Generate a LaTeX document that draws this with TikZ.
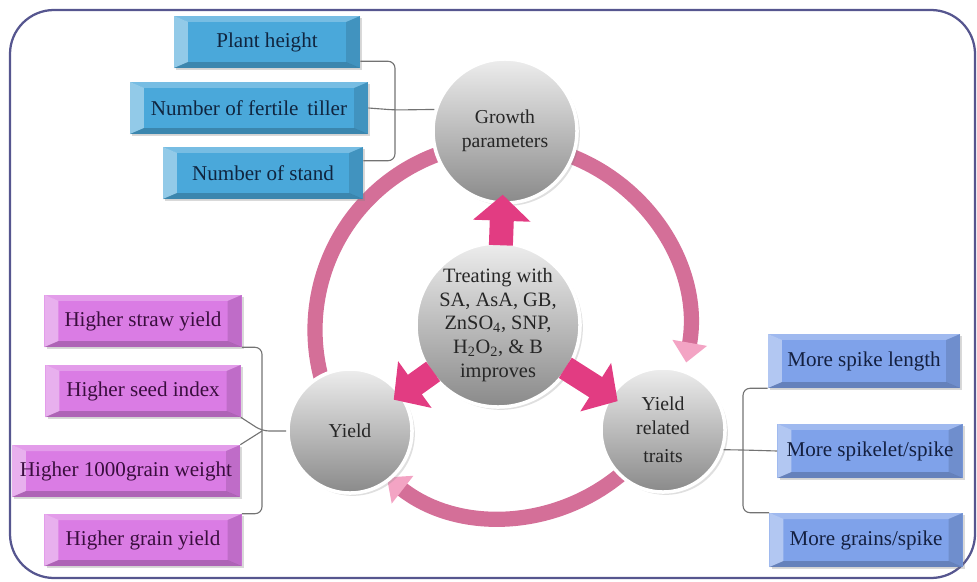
\documentclass[tikz,border=0pt]{standalone}
\usepackage{fontspec}
\setmainfont{Liberation Serif}
\usetikzlibrary{arrows.meta,calc,shadows}
\definecolor{skyfill}{HTML}{4AA8DA}
\definecolor{skytext}{HTML}{10253F}
\definecolor{lilacfill}{HTML}{DA7CE4}
\definecolor{lilactext}{HTML}{3A0E3E}
\definecolor{periwinkle}{HTML}{7FA2EA}
\definecolor{periwinkletext}{HTML}{142040}
\definecolor{ringpink}{HTML}{D46F98}
\definecolor{headpink}{HTML}{F3A4C4}
\definecolor{pushpink}{HTML}{E23C82}
\definecolor{frameblue}{HTML}{56568F}

\begin{document}
\begin{tikzpicture}[x=0.025cm, y=0.025cm,
    bevel/.style={path picture={
      \fill[white,opacity=.4] (path picture bounding box.south west) -- (path picture bounding box.north west) -- ($(path picture bounding box.north west)+(.35cm,-.15cm)$) -- ($(path picture bounding box.south west)+(.35cm,.15cm)$) -- cycle;
      \fill[white,opacity=.25] (path picture bounding box.north west) -- (path picture bounding box.north east) -- ($(path picture bounding box.north east)+(-.35cm,-.15cm)$) -- ($(path picture bounding box.north west)+(.35cm,-.15cm)$) -- cycle;
      \fill[black,opacity=.2] (path picture bounding box.south west) -- (path picture bounding box.south east) -- ($(path picture bounding box.south east)+(-.35cm,.15cm)$) -- ($(path picture bounding box.south west)+(.35cm,.15cm)$) -- cycle;
      \fill[black,opacity=.12] (path picture bounding box.south east) -- (path picture bounding box.north east) -- ($(path picture bounding box.north east)+(-.35cm,-.15cm)$) -- ($(path picture bounding box.south east)+(-.35cm,.15cm)$) -- cycle;}},
    skybox/.style={rectangle, fill=skyfill, text=skytext, minimum height=1.3cm, inner sep=0pt, font=\fontsize{15}{17}\selectfont, bevel, drop shadow={opacity=.3, shadow xshift=1.5pt, shadow yshift=-1.5pt}},
    lilacbox/.style={skybox, fill=lilacfill, text=lilactext},
    periwinklebox/.style={skybox, fill=periwinkle, text=periwinkletext, minimum height=1.35cm},
    sphere/.style={circle, top color=black!7, middle color=black!22, bottom color=black!46, draw=white, line width=2.5pt, inner sep=0pt, align=center, text=black!85, font=\fontsize{14}{17}\selectfont, drop shadow={opacity=.25, shadow xshift=2pt, shadow yshift=-2pt}},
    bracketline/.style={draw=black!55, line width=.8pt, rounded corners=5pt},
    cyclearc/.style={draw=ringpink, line width=.38cm, -{Triangle[width=.85cm,length=.5cm,color=headpink]}},
    pusharrow/.style={draw=pushpink, line width=.6cm, -{Triangle[width=1.4cm,length=.65cm]}, shorten <=-.1cm, shorten >=-.25cm},
    framebox/.style={draw=frameblue, line width=1.6pt, rounded corners=1.1cm}]
   \useasboundingbox (0,0) rectangle (977,581);
   \draw[framebox] (10,3) rectangle (975,571);
   \coordinate (ring) at (502,251);
   \draw[cyclearc] ($(ring)+(80:187)$) arc[start angle=80, end angle=-10, radius=4.675cm];
   \draw[cyclearc] ($(ring)+(-40:187)$) arc[start angle=-40, end angle=-128, radius=4.675cm];
   \draw[cyclearc, -] ($(ring)+(200:187)$) arc[start angle=200, end angle=100, radius=4.675cm];
   \node[sphere, minimum size=3.6cm] (growth) at (505,450) {Growth\\parameters};
   \node[sphere, minimum size=4.1cm, font=\fontsize{14.5}{17}\selectfont] (treat) at (498,256) {Treating with\\SA, AsA, GB,\\ZnSO\textsubscript{4}, SNP,\\H\textsubscript{2}O\textsubscript{2}, \& B\\improves};
   \node[sphere, minimum size=3.1cm] (yield) at (350,150) {Yield};
   \node[sphere, minimum size=3.1cm] (yrt) at (663,151) {Yield\\related\\[3pt]traits};
   \draw[pusharrow] (treat) -- (growth);
   \draw[pusharrow] (treat) -- (yield);
   \draw[pusharrow] (treat) -- (yrt);
   \node[skybox, minimum width=4.65cm] (ph) at (267,539) {Plant height};
   \node[skybox, minimum width=5.95cm] (tiller) at (249,473) {Number of fertile\, tiller};
   \node[skybox, minimum width=5cm] (stand) at (263,408) {Number of stand};
   \node[lilacbox, minimum width=4.925cm] (straw) at (143,260) {Higher straw yield};
   \node[lilacbox, minimum width=4.875cm] (seed) at (143,190) {Higher seed index};
   \node[lilacbox, minimum width=5.7cm] (kgw) at (126,110) {Higher 1000grain weight};
   \node[lilacbox, minimum width=4.925cm] (grain) at (143,41) {Higher grain yield};
   \node[periwinklebox, minimum width=4.8cm] (spike) at (864,220) {More spike length};
   \node[periwinklebox, minimum width=4.625cm] (spikelet) at (870,130) {More spikelet/spike};
   \node[periwinklebox, minimum width=4.825cm] (grains) at (866,41) {More grains/spike};
   \coordinate (jG) at (395,471);
   \coordinate (jY) at (262,150);
   \coordinate (jR) at (743,131);
   \draw[bracketline] ([yshift=5pt]ph.south east) -| (jG) |- ([yshift=-10pt]stand.north east);
   \draw[bracketline] (tiller.east) -- (jG) -- (growth.163);
   \draw[bracketline] (straw.south east) -| (jY) |- (grain.north east);
   \draw[bracketline] (seed.south east) -- (jY) -- (yield.west);
   \draw[bracketline] (kgw.north east) -- (jY);
   \draw[bracketline] (spike.south west) -| (jR) |- (grains.north west);
   \draw[bracketline] (yrt.-18) -- (jR) -- (spikelet.west);
\end{tikzpicture}
\end{document}
